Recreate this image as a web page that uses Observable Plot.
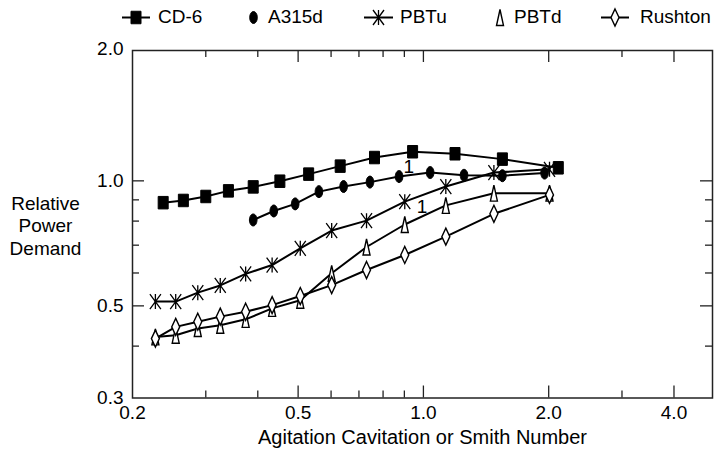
<!DOCTYPE html>
<html><head><meta charset="utf-8">
<script src="https://cdn.jsdelivr.net/npm/d3@7"></script>
<script src="https://cdn.jsdelivr.net/npm/@observablehq/plot@0.6"></script>
<style>
body{margin:0;background:#fff;font-family:"Liberation Sans",Arial,Helvetica,sans-serif;}
#legend{position:relative;width:714px;height:34px;}
.sw{position:absolute;top:0;}
.lb{position:absolute;top:0;height:34px;line-height:34px;font-size:19px;color:#000;white-space:nowrap;}
</style></head><body>
<div id="legend"></div>
<div id="chart"></div>
<script>
// ---- data ----
const seriesNames = ["CD-6", "A315d", "PBTu", "PBTd", "Rushton"];
const cd6X = [0.237, 0.265, 0.300, 0.340, 0.390, 0.452, 0.530, 0.631, 0.763, 0.942, 1.191, 1.548, 2.109];
const cd6Y = [0.886, 0.897, 0.917, 0.946, 0.967, 0.998, 1.038, 1.085, 1.138, 1.175, 1.162, 1.128, 1.075];
const a315X = [0.390, 0.437, 0.492, 0.561, 0.643, 0.744, 0.874, 1.038, 1.252, 1.548, 1.955];
const a315Y = [0.805, 0.846, 0.880, 0.942, 0.969, 0.993, 1.024, 1.047, 1.031, 1.029, 1.044];
const smithX = [0.227, 0.254, 0.287, 0.325, 0.374, 0.433, 0.506, 0.602, 0.730, 0.902, 1.132, 1.477, 2.009];
const pbtuY = [0.512, 0.512, 0.538, 0.560, 0.597, 0.627, 0.688, 0.759, 0.802, 0.891, 0.969, 1.047, 1.066];
const pbtdY = [0.421, 0.425, 0.441, 0.449, 0.464, 0.493, 0.516, 0.599, 0.693, 0.785, 0.873, 0.934, 0.934];
const rushtonY = [0.417, 0.445, 0.458, 0.471, 0.484, 0.502, 0.528, 0.561, 0.610, 0.663, 0.734, 0.833, 0.925];
const noteX = [0.922, 0.993];
const noteY = [1.078, 0.867];
const noteText = ["1", "1"];
const xTickLabels = [0.2, 0.5, 1.0, 2.0, 4.0];
const xMajor = [0.5, 1.0, 2.0, 4.0];
const xMinor = [0.3, 0.4, 0.6, 0.7, 0.8, 0.9, 3.0];
const yTickLabels = [0.3, 0.5, 1.0];
const yTopLabel = ["2.0"];
const yMajor = [0.5, 1.0];
const yMinor = [0.4, 0.6, 0.7, 0.8, 0.9];
const xTitle = "Agitation Cavitation or Smith Number";
const yTitle = "Relative\nPower\nDemand";

// ---- symbols ----
function rectSym(w,h){return {draw(c){c.moveTo(-w/2,-h/2);c.lineTo(w/2,-h/2);c.lineTo(w/2,h/2);c.lineTo(-w/2,h/2);c.closePath();}};}
function ellipseSym(rx,ry){const k=0.5523;return {draw(c){c.moveTo(rx,0);c.bezierCurveTo(rx,ry*k,rx*k,ry,0,ry);c.bezierCurveTo(-rx*k,ry,-rx,ry*k,-rx,0);c.bezierCurveTo(-rx,-ry*k,-rx*k,-ry,0,-ry);c.bezierCurveTo(rx*k,-ry,rx,-ry*k,rx,0);c.closePath();}};}
function starSym(w,h){return {draw(c){c.moveTo(-w/2,-h/2);c.lineTo(w/2,h/2);c.moveTo(w/2,-h/2);c.lineTo(-w/2,h/2);c.moveTo(0,-h/2);c.lineTo(0,h/2);}};}
function triSym(w,h){return {draw(c){c.moveTo(0,-h/2);c.lineTo(w/2,h/2);c.lineTo(-w/2,h/2);c.closePath();}};}
function diamondSym(w,h){return {draw(c){c.moveTo(0,-h/2);c.lineTo(w/2,0);c.lineTo(0,h/2);c.lineTo(-w/2,0);c.closePath();}};}

const styles = {
  "CD-6":   {sym: rectSym(10,12.5), fill:"black", stroke:"black", sw:1, line:true},
  "A315d":  {sym: ellipseSym(3.8,6), fill:"black", stroke:"black", sw:1, line:false},
  "PBTu":   {sym: starSym(11,15), fill:"none", stroke:"black", sw:1.3, line:true},
  "PBTd":   {sym: triSym(7,16), fill:"white", stroke:"black", sw:1.4, line:false},
  "Rushton":{sym: diamondSym(8,17), fill:"white", stroke:"black", sw:1.4, line:true}
};

// ---- table ----
const rows = [];
const xs = {"CD-6": cd6X, "A315d": a315X, "PBTu": smithX, "PBTd": smithX, "Rushton": smithX};
const ys = {"CD-6": cd6Y, "A315d": a315Y, "PBTu": pbtuY, "PBTd": pbtdY, "Rushton": rushtonY};
for (const s of seriesNames) xs[s].forEach((x,i) => rows.push({series: s, x, y: ys[s][i]}));
const notes = noteX.map((x,i) => ({x, y: noteY[i], t: noteText[i]}));

// ---- legend ----
const legendLayout = {
  "CD-6": {sx:122, sw:28, tx:158},
  "A315d": {sx:248, sw:11, tx:268},
  "PBTu": {sx:364, sw:29, tx:400},
  "PBTd": {sx:495, sw:10, tx:514},
  "Rushton": {sx:601, sw:28, tx:640}
};
const leg = document.getElementById("legend");
for (const s of seriesNames) {
  const L = legendLayout[s], st = styles[s];
  const svg = d3.select(leg).append("svg").attr("class","sw")
    .style("left", L.sx + "px").attr("width", L.sw).attr("height", 34);
  if (st.line) svg.append("line").attr("x1",0).attr("x2",L.sw).attr("y1",17.5).attr("y2",17.5).attr("stroke","black").attr("stroke-width",2);
  svg.append("path").attr("transform",`translate(${L.sw/2},17.5)`).attr("d", d3.symbol(st.sym, 64)())
    .attr("fill", st.fill).attr("stroke", st.stroke).attr("stroke-width", st.sw);
  d3.select(leg).append("div").attr("class","lb").style("left", L.tx + "px").text(s);
}

// ---- chart ----
const W = 714, H = 418, mT = 16, mB = 54.5, mL = 132, mR = 2;
const fw = W - mL - mR, fh = H - mT - mB;
const tickStroke = "#222";
const tk = {stroke: tickStroke, strokeWidth: 1.3};
const marks = [
  Plot.line(rows, {x:"x", y:"y", z:"series", stroke:"black", strokeWidth:2}),
  ...seriesNames.map(s => Plot.dot(rows.filter(d => d.series === s), {
    x:"x", y:"y", symbol: styles[s].sym, r: 4.5, fill: styles[s].fill, stroke: styles[s].stroke, strokeWidth: styles[s].sw
  })),
  Plot.text(notes, {x:"x", y:"y", text:"t", fontSize:19, lineAnchor:"middle"}),
  // inward ticks on all four sides
  Plot.ruleX(xMajor, {x: d => d, insetTop: fh - 12, ...tk}),
  Plot.ruleX(xMinor, {x: d => d, insetTop: fh - 7, ...tk}),
  Plot.ruleX(xMajor, {x: d => d, insetBottom: fh - 12, ...tk}),
  Plot.ruleX(xMinor, {x: d => d, insetBottom: fh - 7, ...tk}),
  Plot.ruleY(yMajor, {y: d => d, insetRight: fw - 12, ...tk}),
  Plot.ruleY(yMinor, {y: d => d, insetRight: fw - 7, ...tk}),
  Plot.ruleY(yMajor, {y: d => d, insetLeft: fw - 12, ...tk}),
  Plot.ruleY(yMinor, {y: d => d, insetLeft: fw - 7, ...tk}),
  Plot.frame({stroke: tickStroke, strokeWidth: 1.5}),
  Plot.axisX(xTickLabels, {anchor:"bottom", tickSize:0, tickPadding:7, tickFormat: d3.format(".1f"), label:null, fontSize:19}),
  Plot.axisY(yTickLabels, {anchor:"left", tickSize:0, tickPadding:9, tickFormat: d3.format(".1f"), label:null, fontSize:19}),
  Plot.text(yTopLabel, {frameAnchor:"top-left", text: d => d, dx:-9, dy:-2, textAnchor:"end", lineAnchor:"middle", fontSize:19}),
  Plot.text([yTitle], {frameAnchor:"left", text: d => d, dx:-87, dy:1, textAnchor:"middle", lineAnchor:"middle", lineHeight:1.18, fontSize:19}),
  Plot.text([xTitle], {frameAnchor:"bottom", text: d => d, dy:39.5, lineAnchor:"middle", fontSize:20})
];

const chart = Plot.plot({
  width: W,
  height: H,
  marginTop: mT,
  marginBottom: mB,
  marginLeft: mL,
  marginRight: mR,
  style: {fontFamily: '"Liberation Sans", Arial, Helvetica, sans-serif', fontSize: "19px", color: "black", background: "white"},
  x: {type: "log", domain: [0.2, 4.95]},
  y: {type: "log", domain: [0.3, 2.06]},
  marks
});
document.getElementById("chart").appendChild(chart);
</script>
</body></html>
